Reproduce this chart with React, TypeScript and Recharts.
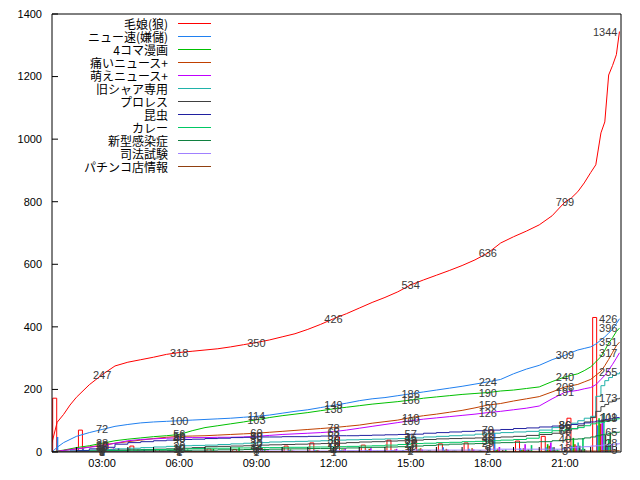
import { ComposedChart, Line, Bar, XAxis, YAxis, Legend, LabelList } from "recharts";

// sample times (hours of the day)
const hours = [
  1.05, 1.25, 1.5, 1.75, 2, 2.5, 3, 3.5, 4, 4.5, 5, 5.5, 6, 6.5, 7, 7.5, 8, 8.5, 9, 9.5,
  10, 10.5, 11, 11.5, 12, 12.5, 13, 13.5, 14, 14.5, 15, 15.5, 16, 16.5, 17, 17.5, 18, 18.5,
  19, 19.5, 20, 20.5, 21, 21.25, 21.5, 21.75, 22, 22.2, 22.4, 22.55, 22.7, 22.85, 23, 23.12,
];
const labelHours = [3, 6, 9, 12, 15, 18, 21];
const binHours = [1, 2, 3, 4, 5, 6, 7, 8, 9, 10, 11, 12, 13, 14, 15, 16, 17, 18, 19, 20, 21, 22];
const xTicks = [2, 3, 4, 5, 6, 7, 8, 9, 10, 11, 12, 13, 14, 15, 16, 17, 18, 19, 20, 21, 22, 23];
const yTicks = [0, 200, 400, 600, 800, 1000, 1200, 1400];

// cumulative counts
const kemusume = [
  30, 95, 120, 150, 175, 215, 247, 275, 287, 295, 303, 312, 318, 322, 326, 330, 336, 343, 350, 358,
  368, 378, 392, 408, 426, 442, 460, 478, 494, 512, 534, 550, 565, 580, 596, 614, 636, 668,
  688, 706, 726, 755, 799, 812, 832, 860, 893, 918, 1020, 1055, 1205, 1235, 1270, 1344,
];
const nyuusoku = [
  0, 15, 30, 40, 50, 62, 72, 82, 88, 93, 96, 98, 100, 102, 104, 106, 108, 111, 114, 118,
  124, 130, 135, 142, 149, 156, 164, 170, 174, 180, 186, 192, 198, 204, 210, 217, 224, 232,
  250, 265, 277, 295, 309, 318, 326, 331, 336, 345, 358, 368, 380, 392, 410, 426,
];
const yonkoma = [
  0, 3, 6, 10, 14, 20, 28, 36, 41, 45, 49, 52, 56, 68, 78, 84, 90, 96, 103, 110,
  116, 121, 126, 132, 138, 143, 148, 153, 157, 161, 166, 172, 176, 180, 184, 187, 190, 195,
  198, 203, 208, 225, 240, 245, 250, 260, 272, 288, 305, 325, 348, 365, 385, 396,
];
const itai = [
  0, 2, 5, 8, 10, 16, 22, 28, 33, 38, 43, 47, 50, 51, 52, 54, 56, 58, 60, 63,
  66, 69, 72, 75, 78, 82, 86, 92, 97, 102, 110, 116, 121, 127, 133, 141, 150, 155,
  163, 170, 177, 192, 208, 212, 216, 224, 232, 245, 258, 276, 296, 318, 340, 351,
];
const moe = [
  0, 2, 5, 7, 10, 15, 20, 28, 36, 40, 42, 44, 45, 46, 46, 47, 47, 48, 50, 53,
  56, 58, 60, 62, 65, 70, 76, 82, 88, 94, 100, 105, 109, 113, 117, 121, 126, 130,
  135, 140, 147, 170, 191, 194, 197, 202, 206, 215, 232, 245, 262, 280, 300, 317,
];
const kyuusyaa = [
  0, 1, 2, 3, 4, 6, 8, 10, 12, 14, 16, 18, 20, 21, 22, 24, 26, 28, 30, 32,
  33, 34, 35, 36, 38, 39, 40, 41, 42, 43, 45, 48, 50, 52, 54, 57, 60, 62,
  64, 66, 70, 78, 86, 92, 100, 108, 114, 178, 212, 228, 238, 245, 250, 255,
];
const puroresu = [
  0, 0, 1, 1, 2, 3, 5, 6, 7, 8, 9, 10, 12, 14, 17, 18, 19, 20, 22, 23,
  24, 25, 26, 27, 28, 30, 32, 33, 35, 36, 38, 40, 42, 43, 44, 45, 46, 48,
  50, 53, 56, 60, 68, 74, 84, 96, 110, 130, 145, 152, 160, 166, 170, 173,
];
const konchuu = [
  0, 1, 2, 3, 5, 10, 15, 25, 30, 33, 36, 38, 40, 41, 43, 44, 46, 47, 48, 48,
  49, 49, 50, 51, 52, 52, 53, 54, 55, 56, 57, 60, 62, 64, 66, 68, 70, 72,
  75, 77, 80, 83, 86, 88, 90, 93, 96, 99, 102, 104, 106, 108, 110, 111,
];
const karee = [
  0, 0, 1, 1, 2, 3, 4, 5, 6, 7, 8, 9, 10, 11, 12, 12, 13, 13, 14, 14,
  15, 15, 16, 16, 17, 18, 19, 20, 22, 24, 27, 28, 30, 31, 33, 34, 36, 38,
  40, 44, 62, 68, 72, 75, 78, 84, 90, 93, 95, 98, 100, 103, 106, 108,
];
const shingata = [
  0, 0, 0, 1, 1, 2, 2, 3, 3, 4, 4, 5, 5, 6, 6, 7, 7, 8, 8, 9,
  10, 10, 11, 11, 12, 13, 14, 15, 16, 17, 19, 21, 23, 25, 26, 27, 29, 30,
  31, 32, 33, 36, 40, 41, 42, 45, 48, 52, 55, 57, 60, 62, 63, 65,
];
const shihou = [
  0, 0, 0, 0, 0, 0, 1, 1, 1, 1, 1, 1, 2, 2, 2, 2, 2, 2, 3, 3,
  3, 3, 3, 3, 4, 4, 4, 4, 4, 4, 6, 6, 6, 6, 6, 6, 9, 9,
  9, 9, 9, 9, 13, 14, 16, 17, 19, 20, 22, 23, 24, 25, 26, 28,
];
const pachinko = [
  0, 0, 0, 0, 0, 0, 0, 0, 0, 0, 0, 0, 1, 1, 1, 1, 1, 1, 1, 1,
  1, 1, 1, 1, 1, 1, 1, 1, 1, 1, 2, 2, 2, 2, 2, 2, 2, 2,
  2, 2, 2, 2, 3, 3, 3, 3, 3, 3, 4, 4, 4, 4, 4, 5,
];

// counts per hour (bins 1:00 .. 22:00)
const kemusumeHourly = [172, 70, 30, 19, 8, 6, 10, 8, 12, 19, 29, 48, 22, 38, 38, 26, 29, 70, 35, 50, 108, 430];
const nyuusokuHourly = [48, 12, 8, 5, 3, 2, 2, 3, 5, 6, 7, 6, 7, 6, 8, 15, 10, 60, 12, 15, 20, 85];
const yonkomaHourly = [4, 6, 10, 5, 4, 8, 10, 14, 10, 8, 6, 8, 6, 5, 10, 6, 4, 6, 6, 25, 45, 108];
const itaiHourly = [2, 6, 10, 8, 4, 2, 3, 3, 4, 5, 6, 8, 10, 8, 12, 10, 12, 10, 12, 20, 25, 90];
const moeHourly = [3, 5, 12, 6, 3, 2, 2, 3, 5, 4, 4, 10, 12, 10, 8, 7, 8, 16, 25, 30, 20, 95];
const kyuusyaaHourly = [1, 2, 3, 3, 2, 2, 3, 3, 2, 2, 2, 2, 2, 3, 4, 4, 3, 3, 6, 15, 30, 125];
const puroresuHourly = [0, 1, 3, 2, 2, 3, 2, 2, 2, 2, 3, 3, 3, 2, 3, 2, 3, 6, 8, 15, 20, 55];
const konchuuHourly = [1, 2, 12, 10, 5, 3, 3, 2, 1, 1, 1, 2, 2, 2, 4, 4, 4, 4, 5, 5, 8, 20];
const kareeHourly = [0, 1, 1, 1, 1, 1, 1, 1, 1, 1, 2, 2, 4, 6, 6, 5, 6, 8, 22, 8, 45, 40];
const shingataHourly = [0, 1, 1, 1, 1, 1, 1, 1, 1, 1, 2, 3, 3, 3, 5, 4, 4, 2, 2, 5, 10, 60];
const shihouHourly = [0, 0, 1, 0, 0, 1, 0, 0, 0, 1, 0, 1, 1, 1, 2, 1, 2, 2, 3, 3, 5, 25];
const pachinkoHourly = [0, 0, 0, 0, 0, 1, 0, 0, 0, 0, 0, 0, 0, 0, 1, 0, 0, 0, 1, 0, 1, 2];

// dense series read better as plain lines, sparse ones as steps
const SERIES = [
  { key: "kemusume", name: "毛娘(狼)", color: "#ff0000", curve: "linear", values: kemusume, hourly: kemusumeHourly },
  { key: "nyuusoku", name: "ニュー速(嫌儲)", color: "#2080f0", curve: "linear", values: nyuusoku, hourly: nyuusokuHourly },
  { key: "yonkoma", name: "4コマ漫画", color: "#00c000", curve: "linear", values: yonkoma, hourly: yonkomaHourly },
  { key: "itai", name: "痛いニュース+", color: "#c04000", curve: "linear", values: itai, hourly: itaiHourly },
  { key: "moe", name: "萌えニュース+", color: "#c000ff", curve: "linear", values: moe, hourly: moeHourly },
  { key: "kyuusyaa", name: "旧シャア専用", color: "#20b2aa", curve: "stepAfter", values: kyuusyaa, hourly: kyuusyaaHourly },
  { key: "puroresu", name: "プロレス", color: "#404040", curve: "stepAfter", values: puroresu, hourly: puroresuHourly },
  { key: "konchuu", name: "昆虫", color: "#2020a0", curve: "stepAfter", values: konchuu, hourly: konchuuHourly },
  { key: "karee", name: "カレー", color: "#00c864", curve: "stepAfter", values: karee, hourly: kareeHourly },
  { key: "shingata", name: "新型感染症", color: "#108040", curve: "stepAfter", values: shingata, hourly: shingataHourly },
  { key: "shihou", name: "司法試験", color: "#a080ff", curve: "stepAfter", values: shihou, hourly: shihouHourly },
  { key: "pachinko", name: "パチンコ店情報", color: "#904010", curve: "stepAfter", values: pachinko, hourly: pachinkoHourly },
];

const X_DOMAIN = [1.05, 23.18];
const Y_DOMAIN = [0, 1400];
const FONT = "'Liberation Sans', 'Noto Sans CJK JP', sans-serif";

const lineRows = hours.map((t, i) => {
  const row: any = { t };
  SERIES.forEach((s) => {
    row[s.key] = s.values[i];
    if (labelHours.includes(t)) row[s.key + "L"] = s.values[i];
    if (i === hours.length - 1) row[s.key + "E"] = s.values[i];
  });
  return row;
});

const barRows = binHours.map((h, i) => {
  const row: any = { t: h + 0.5 };
  SERIES.forEach((s) => {
    row[s.key + "H"] = s.hourly[i];
  });
  return row;
});

const pad2 = (n: number) => (n < 10 ? "0" + n : "" + n);
const formatHour = (v: number) => (v % 3 === 0 ? `${pad2(v)}:00` : "");

const valueLabel = (anchor: "middle" | "end") => (props: any) => {
  const { value } = props;
  if (value == null) return null;
  const x = props.x ?? props.viewBox?.x;
  const y = props.y ?? props.viewBox?.y;
  if (x == null || y == null) return null;
  return (
    <text x={anchor === "end" ? x - 2 : x} y={y} dy={4} textAnchor={anchor} fontSize={11} fill="#3a3a3a">
      {value}
    </text>
  );
};

const renderLegend = () => (
  <div style={{ fontFamily: "'Noto Sans CJK JP', sans-serif", fontSize: 12, color: "#000" }}>
    {SERIES.map((s) => (
      <div key={s.key} style={{ display: "flex", alignItems: "center", height: 13 }}>
        <span style={{ width: 128, textAlign: "right", lineHeight: "13px", whiteSpace: "nowrap" }}>{s.name}</span>
        <span style={{ display: "block", width: 33, height: 1, marginLeft: 10, background: s.color }} />
      </div>
    ))}
  </div>
);

export default function App() {
  return (
    <div style={{ position: "absolute", left: 0, top: 0, width: 640, height: 480, background: "#fff", fontFamily: FONT }}>
      {/* hourly boxes */}
      <div style={{ position: "absolute", left: 0, top: 0 }}>
        <ComposedChart width={640} height={480} data={barRows} barGap={0}
          margin={{ top: 14, right: 19, bottom: 28, left: 52 }}>
          <XAxis hide type="number" dataKey="t" domain={X_DOMAIN} allowDataOverflow />
          <YAxis hide domain={Y_DOMAIN} allowDataOverflow />
          {SERIES.map((s, i) => (
            <Bar
              key={s.key}
              dataKey={s.key + "H"}
              barSize={i === 0 ? 4 : 1.6}
              fill={i === 0 ? "none" : s.color}
              stroke={i === 0 ? s.color : "none"}
              isAnimationActive={false}
            />
          ))}
        </ComposedChart>
      </div>

      {/* cumulative lines */}
      <div style={{ position: "absolute", left: 0, top: 0 }}>
        <ComposedChart width={640} height={480} data={lineRows} margin={{ top: 0, right: 0, bottom: 0, left: 0 }}>
          <XAxis type="number" dataKey="t" domain={X_DOMAIN} allowDataOverflow ticks={xTicks} interval={0}
            tickFormatter={formatHour} height={28} tickSize={-5} tickMargin={12}
            stroke="#000" tick={{ fontSize: 11, fill: "#000" }} />
          <XAxis xAxisId="top" orientation="top" type="number" dataKey="t" domain={X_DOMAIN} allowDataOverflow
            ticks={xTicks} interval={0} height={14} tickSize={-5} tick={false} stroke="#000" />
          <YAxis domain={Y_DOMAIN} allowDataOverflow ticks={yTicks} interval={0} width={52}
            tickSize={-6} tickMargin={16} stroke="#000" tick={{ fontSize: 11, fill: "#000" }} />
          <YAxis yAxisId="r" orientation="right" domain={Y_DOMAIN} allowDataOverflow ticks={yTicks} interval={0}
            width={19} tickSize={-6} tick={false} stroke="#000" />
          <Legend content={renderLegend} layout="vertical" align="center" verticalAlign="middle"
            wrapperStyle={{ top: 17, left: 40, width: 180 }} />
          {SERIES.map((s) => (
            <Line
              key={s.key}
              type={s.curve as any}
              dataKey={s.key}
              name={s.name}
              stroke={s.color}
              strokeWidth={1}
              dot={false}
              isAnimationActive={false}
            >
              <LabelList dataKey={s.key + "L"} content={valueLabel("middle")} />
              <LabelList dataKey={s.key + "E"} content={valueLabel("end")} />
            </Line>
          ))}
        </ComposedChart>
      </div>
    </div>
  );
}
